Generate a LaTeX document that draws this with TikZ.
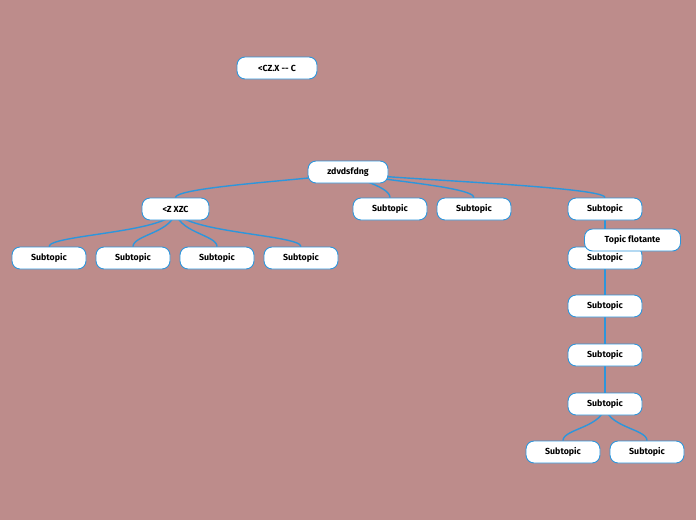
\documentclass[tikz,border=0pt]{standalone}
\usepackage{fontspec}
\setmainfont[Ligatures=NoCommon]{Fira Sans}
\usetikzlibrary{calc}
\pgfdeclarelayer{bgl}
\pgfdeclarelayer{edgel}
\pgfsetlayers{bgl,edgel,main}
\definecolor{bgc}{RGB}{189,140,139}
\definecolor{lnc}{RGB}{45,150,220}
\begin{document}
\begin{tikzpicture}[x=1pt,y=-1pt,
  topic/.style={draw=lnc, line width=0.9pt, fill=white, rounded corners=8pt,
    minimum height=22pt, minimum width=74pt, inner sep=0pt,
    font=\fontsize{8.8}{10}\selectfont\bfseries},
  conn/.style={draw=lnc, line width=1.4pt}]
\begin{pgfonlayer}{bgl}
\fill[bgc] (0,0) rectangle (696,520);
\end{pgfonlayer}
\useasboundingbox (0,0) rectangle (696,520);
% nodes
\node[topic, minimum width=80pt] (cz) at (277,68) {<CZ.X {-}{-} C};
\node[topic, minimum width=80pt] (root) at (348,172) {zdvdsfdng};
\node[topic, minimum width=67pt] (zx) at (175.5,209) {<Z XZC};
\node[topic] (s1) at (390,209) {Subtopic};
\node[topic] (s2) at (474,209) {Subtopic};
\node[topic] (s3) at (605,209) {Subtopic};
\node[topic] (a1) at (49,258) {Subtopic};
\node[topic] (a2) at (133,258) {Subtopic};
\node[topic] (a3) at (217,258) {Subtopic};
\node[topic] (a4) at (301,258) {Subtopic};
\node[topic] (r1) at (605,258) {Subtopic};
\node[topic] (r2) at (605,306) {Subtopic};
\node[topic] (r3) at (605,355) {Subtopic};
\node[topic] (r4) at (605,404) {Subtopic};
\node[topic] (b1) at (563,452) {Subtopic};
\node[topic] (b2) at (647,452) {Subtopic};
\node[topic, minimum width=96pt] (tf) at (632.5,240) {Topic flotante};
% connectors (behind nodes)
\begin{pgfonlayer}{edgel}
\foreach \c in {zx,s1,s2,s3}{
  \draw[conn] (root.center) .. controls ($(root.center)!0.5!(root.south)$) and ($(\c.north)+(0,-12)$) .. (\c.north);
}
\foreach \c in {a1,a2,a3,a4}{
  \draw[conn] (zx.center) .. controls ($(zx.south)+(0,12)$) and ($(\c.north)+(0,-12)$) .. (\c.north);
}
\foreach \c in {b1,b2}{
  \draw[conn] (r4.center) .. controls ($(r4.south)+(0,12)$) and ($(\c.north)+(0,-12)$) .. (\c.north);
}
\draw[conn] (s3) -- (r1);
\draw[conn] (r1) -- (r2);
\draw[conn] (r2) -- (r3);
\draw[conn] (r3) -- (r4);
\end{pgfonlayer}
\end{tikzpicture}
\end{document}
